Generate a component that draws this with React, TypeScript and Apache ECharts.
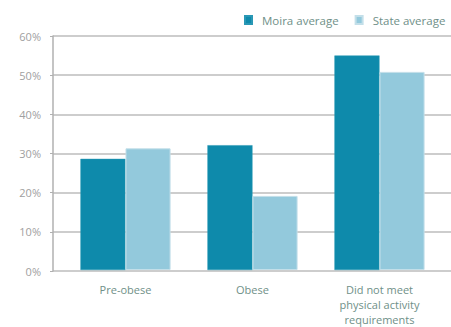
import React, { useEffect, useRef } from "react";
import * as echarts from "echarts";

const categories = ["Pre-obese", "Obese", "Did not meet\nphysical activity\nrequirements"];
const moiraValues = [28.5, 32, 55];
const stateValues = [31.2, 19, 50.8];
const seriesNames = ["Moira average", "State average"];

export default function App() {
  const ref = useRef<HTMLDivElement>(null);
  useEffect(() => {
    const chart = echarts.init(ref.current!, null, { renderer: "svg" });
    chart.setOption({
      animation: false,
      textStyle: { fontFamily: "Open Sans" },
      legend: {
        data: seriesNames,
        top: 9,
        left: 239,
        width: 320,
        orient: "horizontal",
        itemWidth: 7,
        itemHeight: 8,
        itemGap: 16,
        icon: "rect",
        textStyle: {
          color: "#6f9088",
          fontSize: 11.5,
          fontFamily: "Open Sans",
          padding: [0, 0, 0, 5],
        },
      },
      grid: [
        { left: 53, right: 0, top: 36, bottom: 56 },
        { left: 62, right: 8, top: 36, bottom: 56 },
      ],
      xAxis: [
        { gridIndex: 0, type: "value", show: false, min: 0, max: 1 },
        {
          gridIndex: 1,
          type: "category",
          data: categories,
          axisLine: { show: false },
          axisTick: { show: false },
          axisLabel: {
            color: "#6f9088",
            fontSize: 11,
            lineHeight: 15,
            margin: 12,
            fontFamily: "Open Sans",
          },
        },
      ],
      yAxis: [
        {
          gridIndex: 0,
          type: "value",
          min: 0,
          max: 60,
          interval: 10,
          axisLine: { show: true, lineStyle: { color: "#b0b0b0", width: 1.5 } },
          axisTick: { show: true, length: 3, lineStyle: { color: "#b0b0b0" } },
          splitLine: { lineStyle: { color: "#bdbdbd", width: 1.5 } },
          axisLabel: {
            formatter: "{value}%",
            color: "#a0a0a0",
            fontSize: 11,
            margin: 12,
            fontFamily: "Open Sans",
          },
        },
        { gridIndex: 1, type: "value", min: 0, max: 60, show: false },
      ],
      series: [
        {
          name: seriesNames[0],
          type: "bar",
          xAxisIndex: 1,
          yAxisIndex: 1,
          data: moiraValues,
          barGap: "0%",
          barCategoryGap: "29%",
          itemStyle: { color: "#0e8aab", borderColor: "#2a98b5", borderWidth: 0.5 },
        },
        {
          name: seriesNames[1],
          type: "bar",
          xAxisIndex: 1,
          yAxisIndex: 1,
          data: stateValues,
          itemStyle: { color: "#93c9dc", borderColor: "#c3dfe9", borderWidth: 1 },
        },
      ],
    });
    return () => chart.dispose();
  }, []);
  return <div ref={ref} style={{ width: 451, height: 327, position: "absolute", left: 0, top: 0 }} />;
}
